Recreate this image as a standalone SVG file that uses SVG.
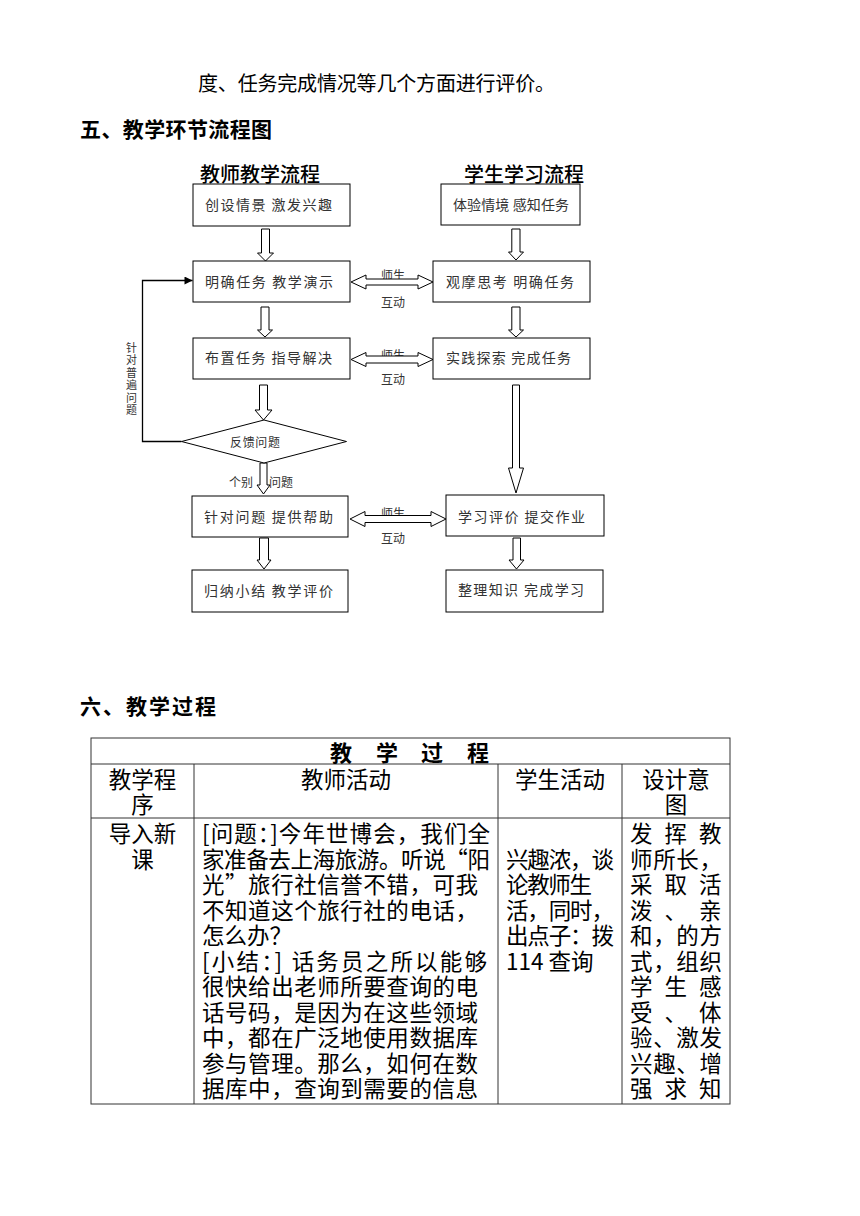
<svg xmlns="http://www.w3.org/2000/svg" width="860" height="1216" viewBox="0 0 860 1216">
<defs>
<style>
text{font-family:"Noto Sans CJK SC","Noto Sans",sans-serif;fill:#000;dominant-baseline:central}
.doc{font-size:20px}
.h{font-size:21px;font-weight:bold}
.head{font-size:20px;font-weight:500}
.bx{fill:#fff;stroke:#000;stroke-width:1}
.bt{font-size:14px;fill:#333}
.ar{fill:#fff;stroke:#000;stroke-width:1}
.lb{font-size:12px;fill:#333}
.tl{stroke:#333;stroke-width:1;fill:none}
.tt{font-size:22.5px}
.tc{font-size:22.5px;text-anchor:middle}
</style>
<marker id="tri" viewBox="0 0 10 10" refX="10" refY="5" markerWidth="9" markerHeight="8" markerUnits="userSpaceOnUse" orient="auto">
<path d="M0,0 L10,5 L0,10 z" fill="#000"/>
</marker>
</defs>
<rect width="860" height="1216" fill="#fff"/>

<text class="doc" x="198" y="82" textLength="357">度、任务完成情况等几个方面进行评价。</text>
<text class="h" x="80" y="128" textLength="192">五、教学环节流程图</text>

<text class="head" x="200" y="173" textLength="120">教师教学流程</text>
<text class="head" x="464" y="173" textLength="120">学生学习流程</text>

<g id="connectors">
<polygon class="ar" points="261.5,229 269.5,229 269.5,253 273.5,253 265.5,261 257.5,253 261.5,253"/>
<polygon class="ar" points="511.8,229 520,229 520,252 523.5,252 516,260 508.5,252 511.8,252"/>
<polygon class="ar" points="261,307 269,307 269,330 272.5,330 265,337 257.5,330 261,330"/>
<polygon class="ar" points="511.8,307 520,307 520,330 523.5,330 516,337 508.5,330 511.8,330"/>
<polygon class="ar" points="259.5,385 267.5,385 267.5,410 272,410 263.5,420 255,410 259.5,410"/>
<polygon class="ar" points="512.5,385 519.5,385 519.5,468 523.5,468 516,493 508.5,468 512.5,468"/>
<polygon class="ar" points="260,463 267,463 267,485 270,485 263.5,494 257,485 260,485"/>
<polygon class="ar" points="259.5,538 268.5,538 268.5,560 271,560 264,569 257,560 259.5,560"/>
<polygon class="ar" points="513,538 520.5,538 520.5,560 524,560 516.5,569 509,560 513,560"/>
<text class="lb" x="393" y="274" text-anchor="middle">师生</text>
<text class="lb" x="393" y="301.5" text-anchor="middle">互动</text>
<polygon class="ar" points="351,282 366,275 366,279 418,279 418,275 433,282 418,289 418,285 366,285 366,289"/>
<text class="lb" x="393" y="354" text-anchor="middle">师生</text>
<text class="lb" x="393" y="378" text-anchor="middle">互动</text>
<polygon class="ar" points="351,359.5 366,352.5 366,356 418,356 418,352.5 433,359.5 418,366.5 418,363 366,363 366,366.5"/>
<text class="lb" x="393" y="512" text-anchor="middle">师生</text>
<text class="lb" x="393" y="537" text-anchor="middle">互动</text>
<polygon class="ar" points="350,519 365,511.5 365,515.5 431,515.5 431,511.5 446,519 431,526.5 431,522.5 365,522.5 365,526.5"/>
<polyline points="181.5,441.5 142.5,441.5 142.5,280.5 192.5,280.5" fill="none" stroke="#000" stroke-width="1.3" marker-end="url(#tri)"/>
<g>
<text x="131.5" y="346.5" text-anchor="middle" class="lb" style="font-size:11px">针</text>
<text x="131.5" y="359" text-anchor="middle" class="lb" style="font-size:11px">对</text>
<text x="131.5" y="371.5" text-anchor="middle" class="lb" style="font-size:11px">普</text>
<text x="131.5" y="384" text-anchor="middle" class="lb" style="font-size:11px">遍</text>
<text x="131.5" y="396.5" text-anchor="middle" class="lb" style="font-size:11px">问</text>
<text x="131.5" y="409" text-anchor="middle" class="lb" style="font-size:11px">题</text>
</g>
<text class="lb" x="229" y="481">个别</text>
<text class="lb" x="269" y="481">问题</text>
</g>

<g id="t1"><rect class="bx" x="193" y="184" width="157" height="42"/><text class="bt" x="205" y="204" textLength="127">创设情景 激发兴趣</text></g>
<g id="t2"><rect class="bx" x="193" y="261" width="157" height="41"/><text class="bt" x="205" y="281" textLength="128">明确任务 教学演示</text></g>
<g id="t3"><rect class="bx" x="193" y="338" width="157" height="41"/><text class="bt" x="205" y="357" textLength="127">布置任务 指导解决</text></g>
<g id="t4"><polygon class="bx" points="181.5,441.5 264,420 346.5,441.5 264,463"/><text class="lb" x="230" y="441" textLength="50">反馈问题</text></g>
<g id="t5"><rect class="bx" x="192" y="496" width="156" height="41"/><text class="bt" x="204" y="516" textLength="129">针对问题 提供帮助</text></g>
<g id="t6"><rect class="bx" x="192" y="570" width="156" height="42"/><text class="bt" x="204" y="590" textLength="129">归纳小结 教学评价</text></g>

<g id="s1"><rect class="bx" x="441" y="184" width="139" height="41"/><text class="bt" x="453" y="204" textLength="116">体验情境 感知任务</text></g>
<g id="s2"><rect class="bx" x="433" y="261" width="157" height="41"/><text class="bt" x="446" y="281" textLength="128">观摩思考 明确任务</text></g>
<g id="s3"><rect class="bx" x="433" y="338" width="157" height="41"/><text class="bt" x="446" y="357" textLength="125">实践探索 完成任务</text></g>
<g id="s4"><rect class="bx" x="446" y="495" width="158" height="41"/><text class="bt" x="458" y="516" textLength="127">学习评价 提交作业</text></g>
<g id="s5"><rect class="bx" x="446" y="570" width="157" height="42"/><text class="bt" x="458" y="589" textLength="126">整理知识 完成学习</text></g>

<text class="h" x="80" y="705" textLength="136">六、教学过程</text>

<g id="table">
<rect class="tl" x="91" y="738" width="639" height="366"/>
<line class="tl" x1="91" y1="764" x2="730" y2="764"/>
<line class="tl" x1="91" y1="818" x2="730" y2="818"/>
<line class="tl" x1="194" y1="764" x2="194" y2="1104"/>
<line class="tl" x1="498" y1="764" x2="498" y2="1104"/>
<line class="tl" x1="622" y1="764" x2="622" y2="1104"/>
<text x="330 376 421 467" y="751" style="font-size:22px;font-weight:bold">教学过程</text>
<text class="tc" x="142.5" y="778">教学程</text>
<text class="tc" x="142.5" y="803">序</text>
<text class="tc" x="346" y="778">教师活动</text>
<text class="tc" x="560" y="778">学生活动</text>
<text class="tc" x="676" y="778">设计意</text>
<text class="tc" x="676" y="803">图</text>
<text class="tc" x="142.5" y="832">导入新</text>
<text class="tc" x="142.5" y="857.5">课</text>
<text class="tt" x="202" y="832" textLength="288">[问题：]今年世博会，我们全</text>
<text class="tt" x="202" y="857.5" textLength="288">家准备去上海旅游。听说“阳</text>
<text class="tt" x="202" y="883" textLength="276">光”旅行社信誉不错，可我</text>
<text class="tt" x="202" y="908.5" textLength="276">不知道这个旅行社的电话，</text>
<text class="tt" x="202" y="934">怎么办？</text>
<text class="tt" x="202" y="959.5" textLength="285">[小结：] 话务员之所以能够</text>
<text class="tt" x="202" y="985" textLength="276">很快给出老师所要查询的电</text>
<text class="tt" x="202" y="1010.5" textLength="276">话号码，是因为在这些领域</text>
<text class="tt" x="202" y="1036" textLength="276">中，都在广泛地使用数据库</text>
<text class="tt" x="202" y="1061.5" textLength="276">参与管理。那么，如何在数</text>
<text class="tt" x="202" y="1087" textLength="276">据库中，查询到需要的信息</text>
<text class="tt" x="506" y="857.5" textLength="108">兴趣浓，谈</text>
<text class="tt" x="506" y="883" textLength="86">论教师生</text>
<text class="tt" x="506" y="908.5" textLength="108">活，同时，</text>
<text class="tt" x="506" y="934" textLength="108">出点子：拨</text>
<text class="tt" x="506" y="959.5">114 查询</text>
<text class="tt" x="630 664.5 699" y="832">发挥教</text>
<text class="tt" x="630" y="857.5" textLength="92">师所长，</text>
<text class="tt" x="630 664.5 699" y="883">采取活</text>
<text class="tt" x="630 664.5 699" y="908.5">泼、亲</text>
<text class="tt" x="630" y="934" textLength="92">和，的方</text>
<text class="tt" x="630" y="959.5" textLength="92">式，组织</text>
<text class="tt" x="630 664.5 699" y="985">学生感</text>
<text class="tt" x="630 664.5 699" y="1010.5">受、体</text>
<text class="tt" x="630" y="1036" textLength="92">验、激发</text>
<text class="tt" x="630" y="1061.5" textLength="92">兴趣、增</text>
<text class="tt" x="630 664.5 699" y="1087">强求知</text>
</g>
</svg>
